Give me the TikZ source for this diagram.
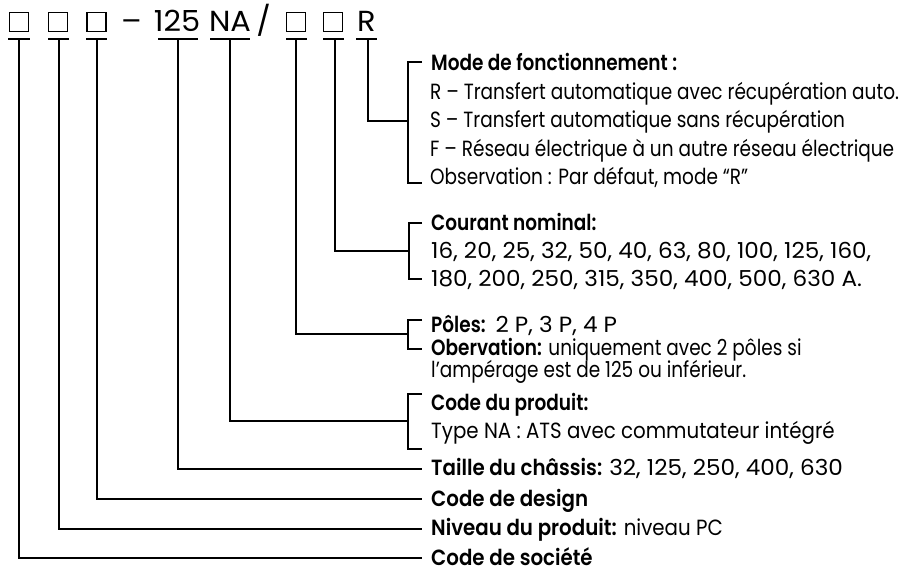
\documentclass[tikz,border=0pt]{standalone}
\usepackage{fontspec}
\setmainfont{Poppins}[BoldFont=* SemiBold, FakeStretch=0.84]
\newfontfamily\numfont{Poppins}[BoldFont=* SemiBold, FakeStretch=1.05]
\newfontfamily\condfont{Poppins}[BoldFont=* SemiBold, FakeStretch=0.9]
\tikzset{
  codebox/.style={draw, line width=1.4pt, minimum size=19pt, inner sep=0pt},
  codetxt/.style={font=\fontsize{29}{31}\selectfont\numfont, inner sep=0pt, anchor=base},
  desc/.style={anchor=base west, inner sep=0pt, font=\fontsize{22}{26}\selectfont},
  ndesc/.style={desc, font=\fontsize{22}{26}\selectfont\numfont},
  cdesc/.style={desc, font=\fontsize{22}{26}\selectfont\condfont},
  link/.style={line width=1.3pt, line cap=butt, line join=miter},
}

\begin{document}
\begin{tikzpicture}[x=1pt,y=-1pt]
      \useasboundingbox (0,0) rectangle (899,572);

      % Code du modele
      \node[codebox] (c1) at (19,22) {};
      \node[codebox] (c2) at (58,22) {};
      \node[codebox] (c3) at (96.5,22) {};
      \node[codetxt] (dash) at (131.5,32) {–};
      \node[codetxt] (n125) at (177,32) {125};
      \node[codetxt] (nNA) at (230,32) {NA};
      \node[codetxt] (slash) at (263.5,32) {/};
      \node[codebox] (c4) at (296,22) {};
      \node[codebox] (c5) at (333,22) {};
      \node[codetxt] (cR) at (366.5,32) {R};

      % Soulignements
      \draw[link] (8,39) -- (30,39);
      \draw[link] (48,39) -- (69,39);
      \draw[link] (86,39) -- (107,39);
      \draw[link] (158,39) -- (198,39);
      \draw[link] (210,39) -- (250,39);
      \draw[link] (286,39) -- (307,39);
      \draw[link] (323,39) -- (344,39);
      \draw[link] (356,39) -- (377,39);
      \coordinate (u1) at (19,39);
      \coordinate (u2) at (59,39);
      \coordinate (u3) at (97,39);
      \coordinate (u125) at (178,39);
      \coordinate (uNA) at (230,39);
      \coordinate (u4) at (296,39);
      \coordinate (u5) at (335,39);
      \coordinate (uR) at (368,39);

      % Mode de fonctionnement
      \node[desc] (mode) at (431,71) {\textbf{Mode de fonctionnement :}};
      \node[desc] (modeR) at (430,100) {R – Transfert automatique avec récupération auto.};
      \node[desc] (modeS) at (430,128) {S – Transfert automatique sans récupération};
      \node[desc] (modeF) at (430,157) {F – Réseau électrique à un autre réseau électrique};
      \node[desc] (modeO) at (430,185) {Observation : Par défaut, mode “R”};
      \draw[link] (422,62) -| (408,183) -- (422,183);
      \coordinate (jR) at (408,121);
      \draw[link] (uR) |- (jR);

      % Courant nominal
      \node[desc] (cour) at (431,230) {\textbf{Courant nominal:}};
      \node[ndesc] (cour1) at (431,258) {16, 20, 25, 32, 50, 40, 63, 80, 100, 125, 160,};
      \node[ndesc] (cour2) at (431,286) {180, 200, 250, 315, 350, 400, 500, 630 A.};
      \draw[link] (422,223) -| (409,279) -- (422,279);
      \coordinate (j5) at (409,251);
      \draw[link] (u5) |- (j5);

      % Poles
      \node[desc] (pol) at (431,332) {\textbf{Pôles:}\ \ {\numfont 2 P, 3 P, 4 P}};
      \node[desc] (polO) at (431,355) {\textbf{Obervation:} uniquement avec 2 pôles si};
      \node[desc] (polO2) at (431,377) {l’ampérage est de 125 ou inférieur.};
      \draw[link] (422,320) -| (408,349) -- (422,349);
      \coordinate (j4) at (408,334);
      \draw[link] (u4) |- (j4);

      % Code du produit
      \node[desc] (prod) at (431,410) {\textbf{Code du produit:}};
      \node[cdesc] (prodT) at (431,438) {Type NA : ATS avec commutateur intégré};
      \draw[link] (422,394) -| (408,449) -- (422,449);
      \coordinate (jNA) at (408,421);
      \draw[link] (uNA) |- (jNA);

      % Lignes du bas
      \node[cdesc] (tail) at (431,475) {\textbf{Taille du châssis:} {\numfont 32, 125, 250, 400, 630}};
      \node[cdesc] (desi) at (431,506) {\textbf{Code de design}};
      \node[cdesc] (nive) at (431,535) {\textbf{Niveau du produit:} niveau PC};
      \node[cdesc] (soci) at (431,565) {\textbf{Code de société}};
      \draw[link] (u125) |- (422,469);
      \draw[link] (u3) |- (422,499);
      \draw[link] (u2) |- (422,529);
      \draw[link] (u1) |- (422,558);
    \end{tikzpicture}
\end{document}
